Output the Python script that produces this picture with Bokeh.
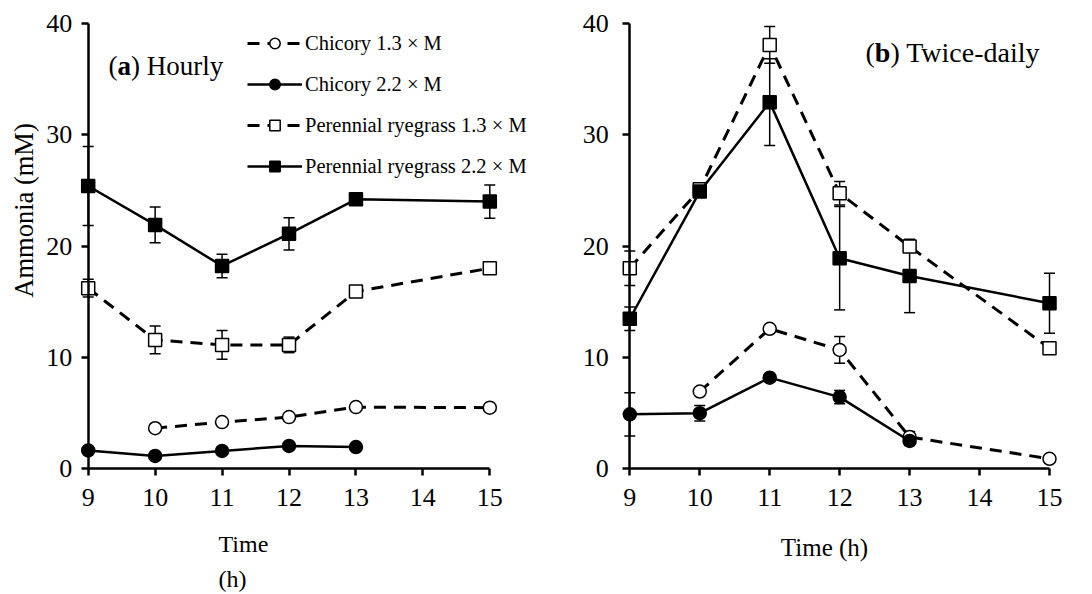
import math
from bokeh.plotting import figure
from bokeh.layouts import row
from bokeh.models import (ColumnDataSource, Whisker, TeeHead, Legend, LegendItem,
                          Label, FixedTicker, Range1d)
from bokeh.embed import file_html
from bokeh.resources import INLINE

# ---------------- data ----------------
x_ticks = [9, 10, 11, 12, 13, 14, 15]
y_ticks = [0, 10, 20, 30, 40]

series_labels = ["Chicory 1.3 × M", "Chicory 2.2 × M",
                 "Perennial ryegrass 1.3 × M", "Perennial ryegrass 2.2 × M"]

# (a) Hourly
a_chic13_t = [10, 11, 12, 13, 15]
a_chic13_v = [3.6, 4.15, 4.6, 5.5, 5.45]
a_chic13_e = [0, 0, 0, 0, 0]
a_chic22_t = [9, 10, 11, 12, 13]
a_chic22_v = [1.6, 1.1, 1.55, 2.0, 1.9]
a_chic22_e = [0, 0, 0, 0, 0]
a_rye13_t = [9, 10, 11, 12, 13, 15]
a_rye13_v = [16.2, 11.55, 11.1, 11.1, 15.9, 18.0]
a_rye13_e = [0.8, 1.25, 1.3, 0.7, 0.3, 0.3]
a_rye22_t = [9, 10, 11, 12, 13, 15]
a_rye22_v = [25.4, 21.9, 18.2, 21.1, 24.2, 24.0]
a_rye22_e = [3.55, 1.6, 1.05, 1.45, 0.3, 1.5]

# (b) Twice-daily
b_chic13_t = [10, 11, 12, 13, 15]
b_chic13_v = [6.9, 12.55, 10.65, 2.8, 0.85]
b_chic13_e = [0.3, 0.2, 1.2, 0.5, 0.1]
b_chic22_t = [9, 10, 11, 12, 13]
b_chic22_v = [4.85, 4.95, 8.15, 6.4, 2.45]
b_chic22_e = [1.95, 0.7, 0.3, 0.6, 0.4]
b_rye13_t = [9, 10, 11, 12, 13, 15]
b_rye13_v = [18.0, 25.1, 38.1, 24.75, 19.95, 10.8]
b_rye13_e = [1.55, 0.4, 1.65, 1.05, 0.4, 0.2]
b_rye22_t = [9, 10, 11, 12, 13, 15]
b_rye22_v = [13.45, 24.9, 32.95, 18.9, 17.3, 14.85]
b_rye22_e = [1.05, 0.4, 3.9, 4.65, 3.3, 2.7]

FONT = "Liberation Serif"

STYLES = [
    dict(dash="12 8", lw=3, marker="circle", fill="white"),
    dict(dash="solid", lw=2.5, marker="circle", fill="black"),
    dict(dash="12 8", lw=3, marker="square", fill="white"),
    dict(dash="solid", lw=2.5, marker="square", fill="black"),
]

H = 592
Y_SCALE = 444.4 / 40.0           # px per mM
Y_END = 40 + 23.3 / Y_SCALE
Y_START = Y_END - H / Y_SCALE


class Panel:
    def __init__(self, width, px9, px15, y_label_standoff):
        self.sx = (px15 - px9) / 6.0
        self.x0 = 9 - px9 / self.sx
        self.x1 = self.x0 + width / self.sx
        p = figure(width=width, height=H,
                   x_range=Range1d(self.x0, self.x1), y_range=Range1d(Y_START, Y_END),
                   output_backend="svg", toolbar_location=None,
                   min_border=0, min_border_left=0, min_border_right=0,
                   min_border_top=0, min_border_bottom=0)
        p.xgrid.visible = False
        p.ygrid.visible = False
        p.outline_line_color = None
        p.background_fill_color = "white"
        p.border_fill_color = "white"
        p.xaxis.ticker = FixedTicker(ticks=x_ticks)
        p.yaxis.ticker = FixedTicker(ticks=y_ticks)
        p.xaxis.bounds = (x_ticks[0], x_ticks[-1])
        p.yaxis.bounds = (y_ticks[0], y_ticks[-1])
        p.xaxis.fixed_location = y_ticks[0]
        p.yaxis.fixed_location = x_ticks[0]
        for ax in (p.xaxis[0], p.yaxis[0]):
            ax.axis_line_width = 2.5
            ax.axis_line_color = "black"
            ax.major_tick_line_width = 2.5
            ax.major_tick_line_color = "black"
            ax.major_tick_out = 7
            ax.major_tick_in = 0
            ax.minor_tick_out = 0
            ax.minor_tick_in = 0
            ax.major_label_text_font = FONT
            ax.major_label_text_font_size = "26px"
            ax.major_label_text_color = "black"
        p.xaxis.major_label_standoff = 14
        p.yaxis.major_label_standoff = y_label_standoff
        self.p = p

    def x(self, px):
        return self.x0 + px / self.sx

    @staticmethod
    def y(py):
        return Y_END - py / Y_SCALE

    def label(self, px, py, text, size, bold=False, align="left", angle=0.0):
        self.p.add_layout(Label(x=self.x(px), y=self.y(py), text=text, text_font=FONT,
                                text_font_size=size,
                                text_font_style="bold" if bold else "normal",
                                text_align=align, text_baseline="middle", angle=angle,
                                text_color="black"))


def add_series(p, t, v, e, style):
    src = ColumnDataSource(dict(t=t, v=v,
                                lo=[a - b for a, b in zip(v, e)],
                                hi=[a + b for a, b in zip(v, e)]))
    w = Whisker(base="t", lower="lo", upper="hi", source=src, dimension="height",
                line_color="black", line_width=1.5,
                lower_head=TeeHead(size=11, line_width=1.5, line_color="black"),
                upper_head=TeeHead(size=11, line_width=1.5, line_color="black"))
    p.add_layout(w)
    ln = p.line("t", "v", source=src, line_color="black", line_width=style["lw"],
                line_dash=style["dash"])
    sc = p.scatter("t", "v", source=src, marker=style["marker"], size=13,
                   fill_color=style["fill"], line_color="black", line_width=1.5)
    return [ln, sc]


# ---------------- left panel ----------------
LW = 570
L = Panel(LW, 87.7, 489.3, 9)
left = L.p
a_sets = [(a_chic13_t, a_chic13_v, a_chic13_e), (a_chic22_t, a_chic22_v, a_chic22_e),
          (a_rye13_t, a_rye13_v, a_rye13_e), (a_rye22_t, a_rye22_v, a_rye22_e)]
items = []
for (t, v, e), st, lab in zip(a_sets, STYLES, series_labels):
    rs = add_series(left, t, v, e, st)
    items.append(LegendItem(label=lab, renderers=rs))

legend = Legend(items=items, location=(247, H - 179), padding=0, margin=0,
                border_line_color=None, background_fill_alpha=0,
                glyph_width=55, glyph_height=26, label_height=26, spacing=15,
                label_standoff=3, label_text_font=FONT, label_text_font_size="20.5px",
                label_text_color="black")
left.add_layout(legend)

L.label(108, 65, "(", "27px")
L.label(117, 65, "a", "27px", bold=True)
L.label(130.5, 65, ") Hourly", "27px")
L.label(23, 210, "Ammonia (mM)", "26.5px", align="center", angle=math.pi / 2)
L.label(218, 543, "Time", "24px")
L.label(218, 578, "(h)", "24px")

# ---------------- right panel ----------------
RW = 515
R = Panel(RW, 629.3 - LW, 1049.0 - LW, 14)
right = R.p
b_sets = [(b_chic13_t, b_chic13_v, b_chic13_e), (b_chic22_t, b_chic22_v, b_chic22_e),
          (b_rye13_t, b_rye13_v, b_rye13_e), (b_rye22_t, b_rye22_v, b_rye22_e)]
for (t, v, e), st in zip(b_sets, STYLES):
    add_series(right, t, v, e, st)

R.label(865 - LW, 52, "(", "28px")
R.label(874.3 - LW, 52, "b", "28px", bold=True)
R.label(889.9 - LW, 52, ") Twice-daily", "28px")
R.label(824 - LW, 547, "Time (h)", "25px", align="center")

layout = row(left, right)
open("out.html", "w").write(file_html(layout, INLINE))
